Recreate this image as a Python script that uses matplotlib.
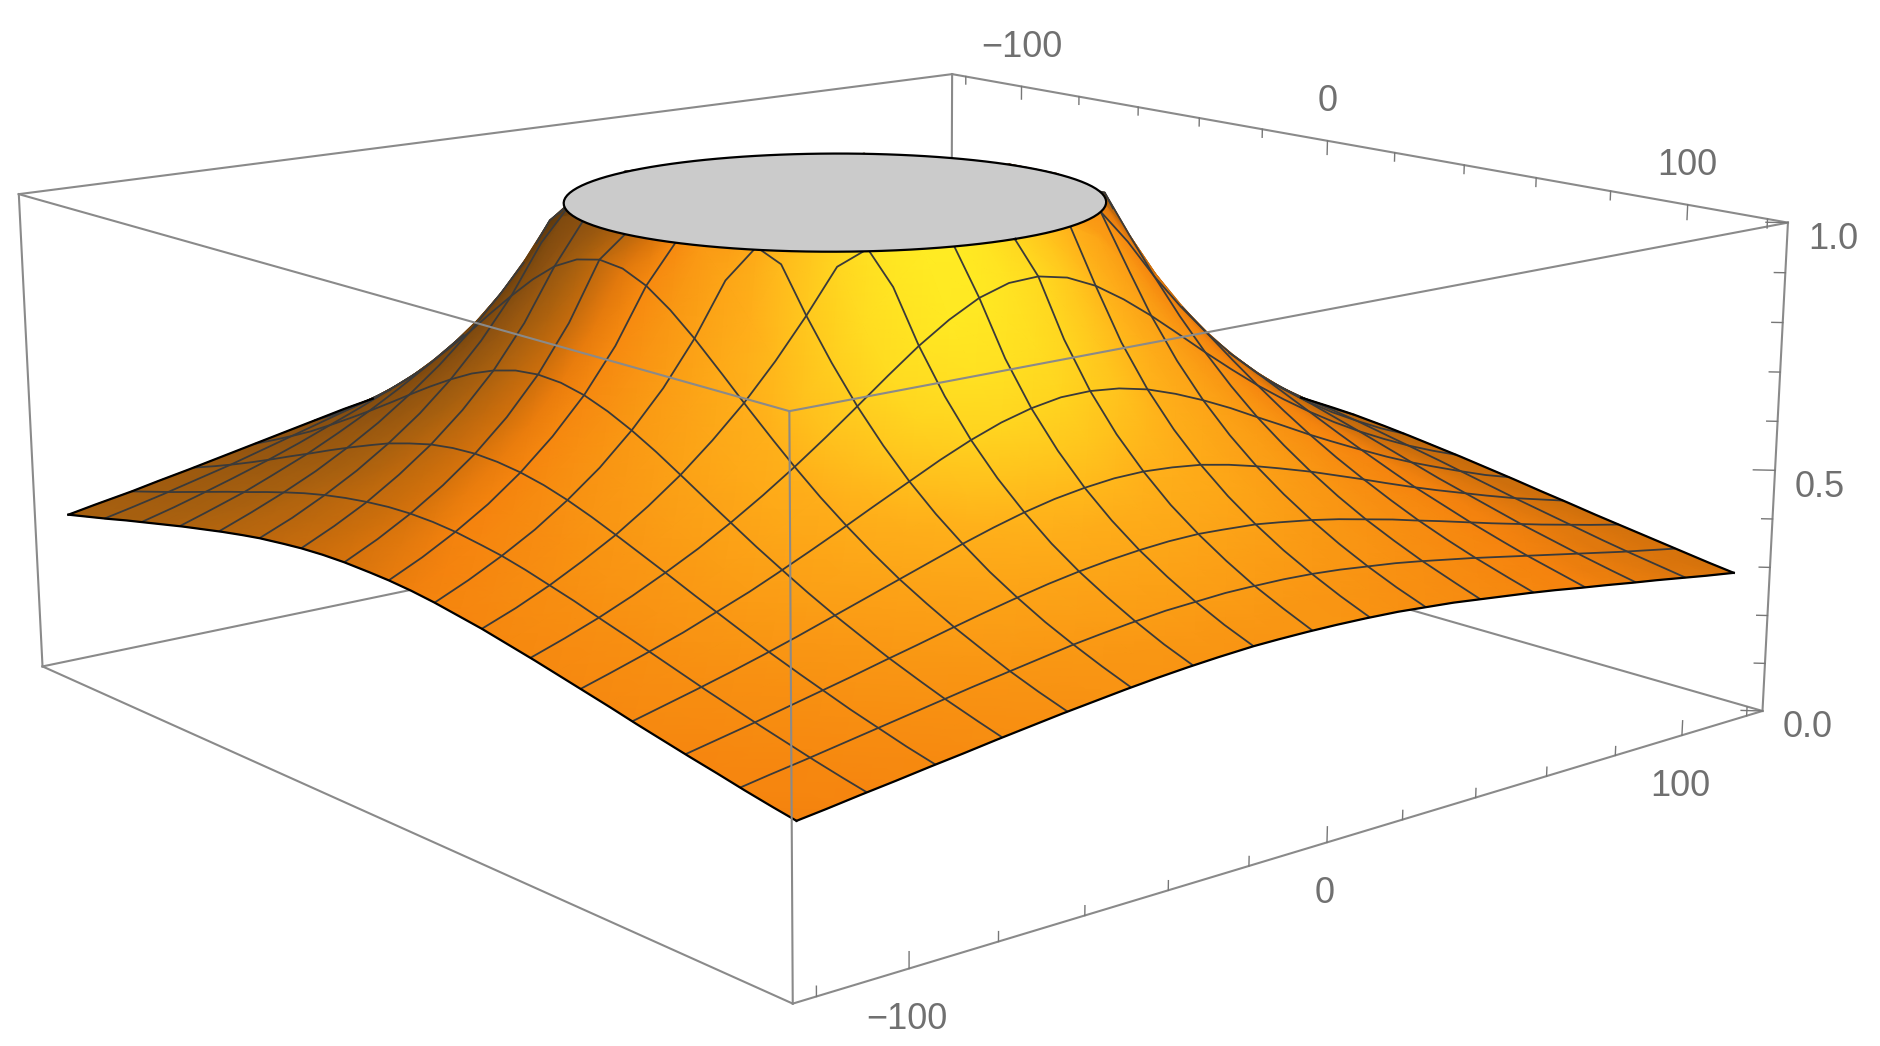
import numpy as np
import matplotlib
matplotlib.use('Agg')
import matplotlib.pyplot as plt
from matplotlib.colors import LinearSegmentedColormap
from mpl_toolkits.mplot3d import proj3d
from mpl_toolkits.mplot3d.art3d import Poly3DCollection

W, H = 1880, 1046
BOX = 125
ZASP = 0.39944

HOLE_X, HOLE_Y, HOLE_R = -14, -2, 54.5

x_nodes = list(np.arange(-120, 120.1, 7.5))
y_nodes = x_nodes[::-1]   # row 0 is the far side, so the mesh paints back to front
mesh_every = 2

x_tick_labels = [(-100, '\u2212100'), (0, '0'), (100, '100')]
z_tick_labels = [(0, '0.0'), (0.5, '0.5'), (1, '1.0')]

# surface height x 1000 at each node, rows run along y_nodes, columns along x_nodes
# (values above 1000 sit inside the clipped top and only set the slope at its rim)
height_table = [
    [309, 319, 330, 340, 351, 361, 371, 381, 390, 398, 405, 411, 415, 418, 419, 418, 416, 412, 407, 400, 392, 383, 374, 364, 354, 343, 333, 322, 312, 302, 292, 282, 273],
    [321, 333, 344, 356, 368, 380, 392, 403, 414, 423, 432, 439, 444, 447, 449, 448, 445, 440, 434, 426, 416, 406, 395, 383, 371, 359, 348, 336, 324, 313, 302, 292, 281],
    [334, 346, 360, 373, 387, 401, 415, 428, 440, 452, 462, 470, 477, 481, 483, 482, 478, 472, 464, 455, 444, 431, 418, 405, 391, 377, 363, 350, 337, 324, 312, 301, 290],
    [347, 361, 376, 391, 407, 423, 439, 455, 470, 484, 497, 507, 515, 520, 522, 521, 516, 509, 500, 488, 474, 459, 444, 428, 412, 396, 380, 365, 350, 336, 323, 311, 299],
    [360, 376, 393, 411, 429, 448, 467, 485, 504, 521, 536, 549, 559, 565, 568, 567, 561, 552, 540, 525, 508, 490, 472, 453, 434, 415, 398, 381, 364, 349, 334, 320, 307],
    [374, 392, 411, 431, 452, 474, 497, 519, 541, 562, 582, 598, 611, 619, 623, 621, 614, 602, 586, 568, 547, 525, 503, 480, 458, 437, 416, 397, 378, 361, 345, 330, 316],
    [388, 408, 429, 452, 477, 503, 529, 557, 584, 610, 635, 656, 673, 684, 688, 686, 677, 661, 641, 617, 591, 564, 537, 510, 484, 459, 435, 414, 393, 374, 356, 340, 324],
    [402, 424, 449, 475, 503, 533, 565, 598, 632, 666, 697, 725, 748, 763, 769, 765, 753, 732, 705, 674, 641, 607, 574, 541, 511, 482, 455, 431, 408, 387, 367, 349, 333],
    [416, 441, 468, 498, 530, 565, 604, 644, 687, 730, 771, 809, 840, 861, 870, 865, 847, 818, 782, 741, 698, 655, 614, 575, 539, 506, 476, 448, 422, 399, 378, 359, 341],
    [430, 457, 487, 521, 558, 599, 645, 695, 748, 804, 860, 912, 956, 987, 1000, 992, 966, 925, 874, 819, 763, 709, 658, 611, 569, 530, 496, 465, 437, 411, 388, 367, 348],
    [442, 472, 506, 544, 586, 634, 688, 749, 816, 889, 965, 1040, 1106, 1153, 1173, 1161, 1121, 1059, 986, 909, 835, 766, 704, 648, 598, 555, 516, 481, 450, 423, 398, 376, 355],
    [454, 487, 524, 566, 614, 669, 733, 807, 891, 987, 1093, 1202, 1304, 1382, 1415, 1395, 1328, 1231, 1122, 1014, 916, 828, 752, 685, 628, 578, 534, 496, 463, 433, 407, 383, 362],
    [465, 500, 540, 586, 639, 702, 776, 865, 970, 1096, 1243, 1408, 1575, 1600, 1600, 1600, 1600, 1453, 1286, 1133, 1002, 891, 799, 721, 655, 599, 551, 510, 474, 442, 414, 389, 367],
    [474, 511, 554, 603, 662, 732, 817, 921, 1049, 1211, 1415, 1600, 1600, 1600, 1600, 1600, 1600, 1600, 1478, 1261, 1089, 952, 842, 753, 679, 618, 566, 522, 483, 450, 421, 395, 372],
    [481, 519, 564, 617, 680, 756, 850, 969, 1121, 1322, 1596, 1600, 1600, 1600, 1600, 1600, 1600, 1600, 1600, 1387, 1169, 1005, 879, 779, 699, 633, 578, 531, 491, 456, 426, 399, 375],
    [485, 525, 571, 626, 692, 773, 874, 1003, 1174, 1410, 1600, 1600, 1600, 1600, 1600, 1600, 1600, 1600, 1600, 1488, 1229, 1044, 905, 798, 712, 643, 585, 537, 495, 460, 429, 402, 377],
    [487, 528, 575, 631, 698, 781, 885, 1019, 1200, 1453, 1600, 1600, 1600, 1600, 1600, 1600, 1600, 1600, 1600, 1539, 1259, 1062, 917, 806, 718, 647, 589, 539, 498, 462, 430, 403, 378],
    [487, 527, 574, 629, 696, 778, 882, 1014, 1192, 1440, 1600, 1600, 1600, 1600, 1600, 1600, 1600, 1600, 1600, 1523, 1250, 1057, 914, 804, 717, 646, 588, 539, 497, 461, 430, 402, 378],
    [484, 523, 569, 623, 687, 766, 864, 989, 1152, 1373, 1600, 1600, 1600, 1600, 1600, 1600, 1600, 1600, 1600, 1446, 1204, 1028, 895, 790, 707, 639, 582, 534, 493, 458, 427, 400, 377],
    [478, 516, 560, 611, 672, 746, 836, 947, 1089, 1272, 1512, 1600, 1600, 1600, 1600, 1600, 1600, 1600, 1588, 1330, 1133, 982, 863, 768, 691, 626, 573, 527, 487, 453, 424, 397, 374],
    [470, 506, 547, 596, 652, 719, 799, 895, 1013, 1157, 1333, 1539, 1600, 1600, 1600, 1600, 1600, 1598, 1385, 1201, 1049, 924, 823, 739, 669, 610, 560, 516, 479, 447, 418, 392, 370],
    [460, 494, 533, 577, 628, 687, 756, 838, 933, 1044, 1170, 1306, 1438, 1542, 1588, 1561, 1469, 1342, 1206, 1076, 961, 862, 777, 704, 643, 590, 544, 504, 469, 438, 411, 387, 365],
    [449, 480, 516, 556, 601, 653, 712, 779, 856, 940, 1030, 1122, 1204, 1265, 1291, 1276, 1223, 1145, 1055, 964, 877, 799, 729, 668, 614, 567, 526, 489, 457, 428, 403, 380, 359],
    [437, 465, 497, 533, 573, 618, 668, 723, 784, 848, 914, 977, 1031, 1070, 1086, 1076, 1043, 992, 931, 865, 800, 739, 682, 631, 585, 543, 506, 473, 444, 417, 393, 372, 352],
    [423, 449, 478, 510, 545, 583, 625, 671, 718, 768, 816, 861, 899, 924, 935, 929, 907, 872, 829, 781, 731, 683, 637, 594, 555, 519, 486, 457, 430, 406, 383, 363, 345],
    [409, 433, 459, 487, 517, 550, 585, 622, 660, 699, 735, 768, 795, 813, 820, 816, 800, 776, 744, 709, 671, 632, 595, 559, 526, 495, 466, 440, 415, 393, 373, 354, 337],
    [395, 417, 440, 464, 491, 519, 548, 578, 609, 639, 667, 692, 711, 724, 729, 726, 715, 697, 674, 647, 617, 586, 556, 526, 498, 471, 446, 423, 401, 381, 362, 345, 329],
    [381, 400, 421, 442, 465, 489, 514, 539, 563, 587, 609, 628, 643, 652, 656, 654, 646, 632, 614, 593, 570, 545, 520, 496, 471, 448, 426, 406, 386, 368, 351, 335, 320],
    [367, 384, 402, 421, 441, 462, 482, 503, 523, 542, 560, 574, 586, 593, 596, 594, 588, 578, 564, 547, 528, 508, 488, 467, 447, 427, 407, 389, 372, 355, 340, 325, 312],
    [354, 369, 385, 402, 419, 436, 454, 471, 487, 503, 517, 529, 538, 543, 546, 544, 539, 531, 520, 507, 492, 475, 458, 441, 423, 406, 389, 373, 358, 343, 329, 316, 303],
    [340, 354, 368, 383, 398, 413, 427, 442, 456, 469, 480, 489, 496, 501, 503, 502, 498, 491, 483, 472, 459, 446, 431, 417, 402, 387, 372, 358, 344, 331, 318, 306, 295],
    [328, 340, 352, 365, 378, 391, 404, 416, 428, 438, 447, 455, 461, 465, 466, 465, 462, 457, 450, 441, 430, 419, 407, 394, 382, 369, 356, 343, 331, 319, 308, 297, 286],
    [315, 326, 337, 349, 360, 371, 382, 392, 402, 411, 419, 425, 430, 433, 434, 433, 431, 427, 421, 413, 405, 395, 385, 374, 363, 352, 340, 329, 318, 308, 297, 287, 278],
]
height_shift = 14   # table read about this much low against the corners of the sheet

xs = np.array(x_nodes)
ys = np.array(y_nodes)
Z = (np.array(height_table)+height_shift)/1000.0
Zc = np.minimum(Z, 1.0)
n = len(xs)

fig = plt.figure(figsize=(W/100, H/100), dpi=100)
ax = fig.add_axes([-78/W, 0.5-0.5*W/H+46/H, 1, W/H], projection='3d', computed_zorder=False)
ax.set_xlim(-BOX, BOX, view_margin=0)
ax.set_ylim(-BOX, BOX, view_margin=0)
ax.set_zlim(0, 1, view_margin=0)
ax.set_axis_off()
ax.view_init(elev=13.824, azim=-39.9608, roll=0)
ax.set_box_aspect((1, 1, ZASP), zoom=0.93923)
ax.set_proj_type('persp', focal_length=0.41266)
ax.apply_aspect()
M = ax.get_proj()

# eye position in data coordinates, used to hide mesh lines behind the hump
eye = np.linalg.svd(M[[0, 1, 3], :])[2][-1]
eye = eye[:3]/eye[3]

def surf(qx, qy):
    fx = np.clip((qx+120)/7.5, 0, n-1.001)
    fy = np.clip((120-qy)/7.5, 0, n-1.001)
    i, j = fy.astype(int), fx.astype(int)
    u, v = fy-i, fx-j
    return (Zc[i, j]*(1-u)*(1-v)+Zc[i, j+1]*(1-u)*v+Zc[i+1, j]*u*(1-v)+Zc[i+1, j+1]*u*v)

def visible(px, py, pz):
    dx, dy, dz = eye[0]-px, eye[1]-py, eye[2]-pz
    d = np.hypot(dx, dy)
    dx, dy, dz = dx/d, dy/d, dz/d
    s = np.arange(5, 360, 2.5)[:, None]
    qx, qy, qz = px+s*dx, py+s*dy, pz+s*dz
    inside = (np.abs(qx) <= 120) & (np.abs(qy) <= 120)
    return ~np.any(inside & (qz < surf(qx, qy)-0.003), axis=0)

def draw_polyline(px, py, pz, **kw):
    # same straight segments, only cut finer so hidden parts can be dropped
    t = np.arange(len(px))
    tt = np.linspace(0, len(px)-1, 6*(len(px)-1)+1)
    lx, ly, lz = np.interp(tt, t, px), np.interp(tt, t, py), np.interp(tt, t, pz)
    lz = np.where(visible(lx, ly, lz), lz, np.nan)
    ax.plot(lx, ly, lz, **kw)

# shading from the surface normals
dzdy, dzdx = np.gradient(Z, ys, xs)
K = 250*ZASP
nx, ny, nz = -dzdx*K, -dzdy*K, np.ones_like(Z)
nn = np.sqrt(nx**2+ny**2+nz**2)
LIGHT = np.array([0.85, -0.27, 0.45])
LIGHT = LIGHT/np.linalg.norm(LIGHT)
shade = (nx*LIGHT[0]+ny*LIGHT[1]+nz*LIGHT[2])/nn

cmap = LinearSegmentedColormap.from_list('mma', [
    (0.00, '#50300a'), (0.33, '#8a5010'), (0.475, '#a8600f'), (0.59, '#d0700c'),
    (0.65, '#f5830e'), (0.88, '#ffb01a'), (1.00, '#ffeb23')])

XX, YY = np.meshgrid(xs, ys)
a, b, _ = proj3d.proj_transform(XX.ravel(), YY.ravel(), Zc.ravel(), M)
PX, PY = a.reshape(XX.shape), b.reshape(XX.shape)
mesh = ax.pcolormesh(PX, PY, shade, shading='gouraud', cmap=cmap, vmin=-0.2, vmax=1.0, zorder=2)
mesh.do_3d_projection = lambda: 0

# mesh lines, every second node
MESH = dict(color='#3a3a3a', lw=1.3, zorder=3, solid_capstyle='butt')
EDGE = dict(color='black', lw=1.6, zorder=3.5)
for k in range(mesh_every, n-1, mesh_every):
    draw_polyline(xs, np.full(n, ys[k]), Zc[k, :], **MESH)
    draw_polyline(np.full(n, xs[k]), ys, Zc[:, k], **MESH)
draw_polyline(xs, np.full(n, ys[0]), Zc[0, :], **EDGE)
draw_polyline(xs, np.full(n, ys[-1]), Zc[-1, :], **EDGE)
draw_polyline(np.full(n, xs[0]), ys, Zc[:, 0], **EDGE)
draw_polyline(np.full(n, xs[-1]), ys, Zc[:, -1], **EDGE)

# clipped top
th = np.linspace(0, 2*np.pi, 121)
cx, cy = HOLE_X+HOLE_R*np.cos(th), HOLE_Y+HOLE_R*np.sin(th)
disk = Poly3DCollection([np.c_[cx, cy, np.ones_like(cx)]], facecolor='#cbcbcb', edgecolor='none', zorder=4)
ax.add_collection3d(disk)
ax.plot(cx, cy, np.ones_like(cx), color='black', lw=1.6, zorder=4.1)

# box
BOXL = dict(color='#8a8a8a', lw=1.5)
def box_line(p, q, z):
    ax.plot([p[0]*BOX, q[0]*BOX], [p[1]*BOX, q[1]*BOX], [p[2], q[2]], zorder=z, **BOXL)
L, F, R, B = (-1, -1), (1, -1), (1, 1), (-1, 1)
for p, q in [(L, B), (B, R)]:
    box_line((*p, 0), (*q, 0), 1)
    box_line((*p, 1), (*q, 1), 1)
box_line((*B, 0), (*B, 1), 1)
for p in (L, R):
    box_line((*p, 0), (*p, 1), 1)
box_line((*L, 0), (*F, 0), 5)
box_line((*F, 0), (*R, 0), 5)
box_line((*L, 1), (*F, 1), 5)
box_line((*F, 1), (*R, 1), 5)
box_line((*F, 0), (*F, 1), 5)

# ticks
TICK = dict(color='#777777', lw=1.0, zorder=5)
for t in np.arange(-120, 121, 20):
    ln = 0.03 if t % 100 == 0 else 0.018
    ax.plot([t, t], [BOX, BOX], [1, 1-ln], **TICK)
    ax.plot([BOX, BOX], [t, t], [0, ln], **TICK)
for t in np.arange(0, 1.01, 0.1):
    ln = 3 if abs(t*2-round(t*2)) < 1e-6 else 1.5
    ax.plot([BOX, BOX-ln], [BOX, BOX-ln], [t, t], **TICK)

LAB = dict(family='Liberation Sans', fontsize=26, color='#707070', ha='center', va='center',
           textcoords='offset points', zorder=6)
def label(x, y, z, s, ox, oy):
    a, b, _ = proj3d.proj_transform(np.array([x], float), np.array([y], float), np.array([z], float), M)
    ax.annotate(s, xy=(a[0], b[0]), xytext=(ox*0.72, oy*0.72), **LAB)

for t, s in x_tick_labels:
    label(t, BOX, 1, s, 0, 39)
    label(BOX, t, 0, s, -2, -51)
for t, s in z_tick_labels:
    label(BOX, BOX, t, s, 45, -17)

fig.savefig('out.png', dpi=100)
